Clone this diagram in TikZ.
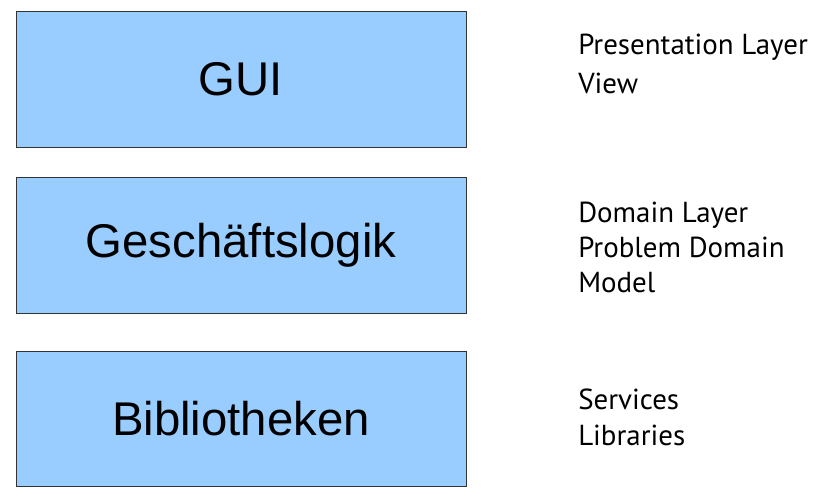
\documentclass[tikz,border=0pt]{standalone}
\usepackage{fontspec}
\setmainfont{PT Sans}
\newfontfamily\boxfont{Liberation Sans}
\definecolor{layerblue}{HTML}{99CCFF}

\begin{document}
\begin{tikzpicture}[x=0.75pt, y=-0.75pt]
            \tikzstyle{layer box} = [draw=black!80, line width=0.75pt, fill=layerblue, minimum width=337.5pt, minimum height=101.5pt, inner sep=0pt, font=\boxfont\fontsize{35.5}{42}\selectfont]
            \tikzstyle{layer note} = [anchor=base west, align=left, inner sep=0pt, font=\fontsize{21.7}{26.8}\selectfont]

            \useasboundingbox (0, 0) rectangle (829, 500);

            \node[layer box] (gui) at (241, 79.5) {GUI};
            \node[layer box] (logic) at (241, 245.5) {Geschäftslogik};
            \node[layer box] (libs) at (241, 419) {Bibliotheken};

            \node[layer note] (guinote) at (578, 93) {Presentation Layer\\[2pt]View};
            \node[layer note] (logicnote) at (578, 292) {Domain Layer\\[-0.9pt]Problem Domain\\[-0.9pt]Model};
            \node[layer note] (libsnote) at (578, 445) {Services\\Libraries};
        \end{tikzpicture}
\end{document}
